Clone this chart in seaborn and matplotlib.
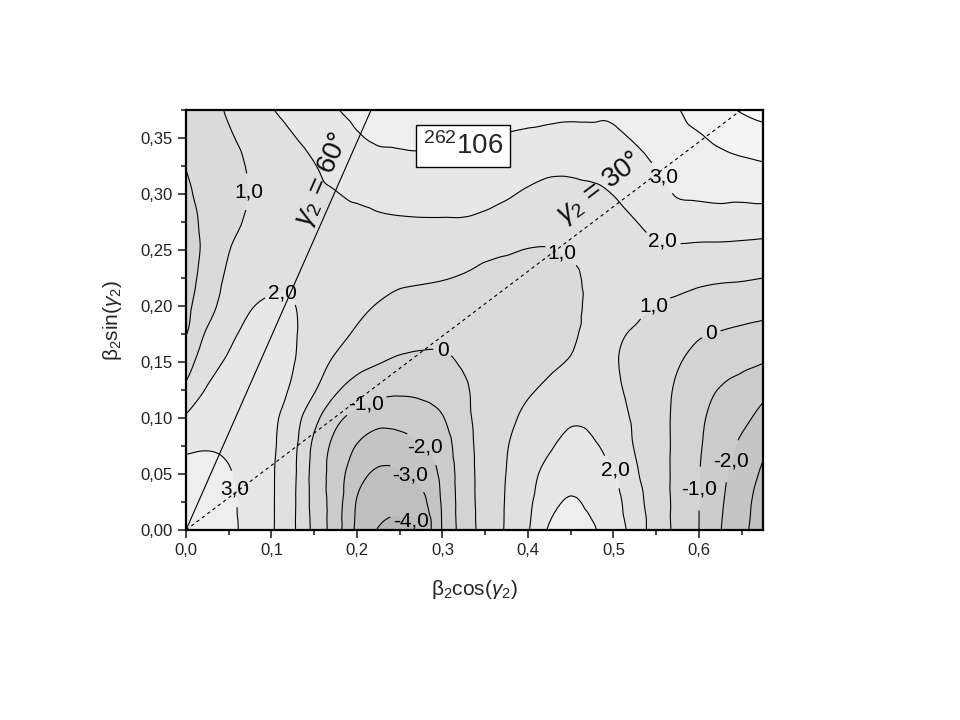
import numpy as np
import seaborn as sns
import matplotlib
matplotlib.use("Agg")
import matplotlib.pyplot as plt
import matplotlib.tri as mtri
from matplotlib.ticker import MultipleLocator, FuncFormatter

# ---------------- data ----------------
beta_cos = [0.000, 0.025, 0.050, 0.075, 0.100, 0.125, 0.150, 0.175, 0.200, 0.225,
            0.250, 0.275, 0.300, 0.325, 0.350, 0.375, 0.400, 0.425, 0.450, 0.475,
            0.500, 0.525, 0.550, 0.575, 0.600, 0.625, 0.650, 0.675]
beta_sin = [0.000, 0.025, 0.050, 0.075, 0.100, 0.125, 0.150, 0.175,
            0.200, 0.225, 0.250, 0.275, 0.300, 0.325, 0.350, 0.375]

# energy (MeV) along each beta_cos column, bottom (beta_sin=0) to top
e_000 = [3.8, 3.6, 3.35, 2.83, 2.11, 1.22, 0.54, -0.04, -0.2, -0.32, -0.4, -0.33, -0.15, 0.02, 0.16, 0.3]
e_025 = [3.6, 3.5, 3.3, 2.93, 2.5, 2.08, 1.62, 1.15, 0.57, 0.34, 0.22, 0.24, 0.32, 0.42, 0.54, 0.68]
e_050 = [3.25, 3.2, 3.07, 2.84, 2.6, 2.35, 2.1, 1.83, 1.52, 1.2, 0.97, 0.75, 0.67, 0.72, 0.9, 1.1]
e_075 = [2.66, 2.62, 2.55, 2.5, 2.45, 2.4, 2.3, 2.15, 1.95, 1.6, 1.3, 1.12, 1.02, 1.08, 1.25, 1.52]
e_100 = [2.1, 2.1, 2.1, 2.15, 2.2, 2.25, 2.27, 2.22, 2.08, 1.85, 1.55, 1.35, 1.28, 1.38, 1.6, 1.95]
e_125 = [1.16, 1.18, 1.22, 1.28, 1.45, 1.88, 2.04, 2.06, 2.02, 1.9, 1.75, 1.6, 1.58, 1.68, 1.95, 2.3]
e_150 = [-0.26, -0.33, -0.35, -0.21, 0.29, 1.08, 1.45, 1.7, 1.8, 1.78, 1.72, 1.75, 1.85, 1.97, 2.25, 2.6]
e_175 = [-1.52, -1.48, -1.45, -1.28, -0.74, 0.14, 0.83, 1.3, 1.5, 1.6, 1.68, 1.8, 1.97, 2.25, 2.6, 2.95]
e_200 = [-3.19, -3.06, -2.63, -2.05, -1.3, -0.42, 0.31, 0.87, 1.2, 1.4, 1.55, 1.78, 2.12, 2.5, 2.92, 3.2]
e_225 = [-4.05, -3.62, -3.15, -2.5, -1.67, -0.71, 0.05, 0.5, 0.95, 1.26, 1.57, 1.87, 2.25, 2.7, 3.1, 3.3]
e_250 = [-4.3, -3.7, -3.12, -2.41, -1.63, -0.83, -0.14, 0.33, 0.75, 1.15, 1.53, 1.91, 2.33, 2.78, 3.12, 3.35]
e_275 = [-3.85, -3.3, -2.71, -2.05, -1.41, -0.79, -0.21, 0.27, 0.68, 1.1, 1.52, 1.93, 2.36, 2.8, 3.15, 3.4]
e_300 = [-1.94, -1.88, -1.76, -1.5, -1.05, -0.62, -0.18, 0.23, 0.63, 1.04, 1.48, 1.93, 2.35, 2.75, 3.12, 3.4]
e_325 = [-0.57, -0.52, -0.48, -0.38, -0.23, -0.12, 0.1, 0.37, 0.63, 0.93, 1.4, 1.92, 2.33, 2.7, 3.1, 3.4]
e_350 = [0.37, 0.38, 0.38, 0.36, 0.33, 0.31, 0.27, 0.35, 0.5, 0.75, 1.22, 1.78, 2.3, 2.68, 3.0, 3.3]
e_375 = [1.1, 1.07, 1.02, 0.95, 0.78, 0.69, 0.49, 0.5, 0.6, 0.78, 1.08, 1.63, 2.1, 2.5, 2.93, 3.3]
e_400 = [1.93, 1.8, 1.68, 1.45, 1.2, 0.92, 0.78, 0.72, 0.72, 0.82, 0.98, 1.45, 1.88, 2.35, 2.85, 3.25]
e_425 = [3.1, 2.7, 2.3, 1.89, 1.52, 1.14, 0.9, 0.8, 0.78, 0.82, 0.97, 1.36, 1.73, 2.2, 2.75, 3.25]
e_450 = [3.4, 3.08, 2.7, 2.28, 1.87, 1.46, 1.05, 0.9, 0.85, 0.88, 1.08, 1.42, 1.76, 2.18, 2.72, 3.2]
e_475 = [3.1, 2.8, 2.45, 2.12, 1.8, 1.5, 1.3, 1.17, 1.12, 1.14, 1.27, 1.5, 1.82, 2.27, 2.75, 3.2]
e_500 = [2.51, 2.35, 2.12, 1.68, 1.35, 1.15, 1.06, 1.08, 1.18, 1.3, 1.45, 1.7, 2.02, 2.4, 2.85, 3.15]
e_525 = [1.62, 1.4, 1.15, 0.95, 0.88, 0.8, 0.8, 0.93, 1.2, 1.45, 1.7, 1.97, 2.33, 2.7, 3.07, 3.35]
e_550 = [0.51, 0.49, 0.45, 0.42, 0.37, 0.36, 0.42, 0.67, 0.97, 1.4, 1.83, 2.25, 2.65, 3.03, 3.35, 3.65]
e_575 = [-0.22, -0.23, -0.24, -0.22, -0.2, -0.12, 0.08, 0.45, 0.83, 1.31, 1.87, 2.46, 3.07, 3.35, 3.65, 3.95]
e_600 = [-1.0, -0.99, -0.97, -0.9, -0.82, -0.65, -0.35, 0.1, 0.62, 1.2, 1.82, 2.48, 3.15, 3.5, 3.9, 4.4]
e_625 = [-1.96, -1.86, -1.75, -1.55, -1.35, -1.05, -0.55, -0.06, 0.52, 1.12, 1.8, 2.5, 3.23, 3.65, 4.2, 4.75]
e_650 = [-2.75, -2.68, -2.45, -2.18, -1.75, -1.3, -0.8, -0.2, 0.45, 1.08, 1.75, 2.5, 3.2, 3.78, 4.45, 5.07]
e_675 = [-3.5, -3.35, -3.15, -2.8, -2.3, -1.73, -0.97, -0.32, 0.34, 1.0, 1.69, 2.47, 3.26, 3.9, 4.6, 5.3]

fill_levels = [-5, -4, -3, -2, -1, 0, 1, 2, 3, 4, 5, 6]
line_levels = [-4, -3, -2, -1, 0, 1, 2, 3, 4, 5]

# contour label anchors (beta_cos, beta_sin)
label_x = [0.075, 0.113, 0.060, 0.210, 0.301, 0.279, 0.262, 0.264,
           0.443, 0.557, 0.557, 0.546, 0.614, 0.507, 0.636, 0.599]
label_y = [0.302, 0.212, 0.037, 0.113, 0.161, 0.074, 0.049, 0.009,
           0.250, 0.314, 0.257, 0.201, 0.176, 0.055, 0.062, 0.037]

gamma_angles = [60, 30]
nucleus_mass = "262"
nucleus_z = "106"

# ---------------- style ----------------
sns.set_style("ticks")
plt.rcParams['font.family'] = ['Liberation Sans', 'DejaVu Sans']
plt.rcParams['mathtext.fontset'] = 'custom'
plt.rcParams['mathtext.rm'] = 'Liberation Sans'
plt.rcParams['mathtext.it'] = 'Liberation Sans:italic'
plt.rcParams['mathtext.bf'] = 'Liberation Sans:bold'

columns = [e_000, e_025, e_050, e_075, e_100, e_125, e_150, e_175, e_200, e_225,
           e_250, e_275, e_300, e_325, e_350, e_375, e_400, e_425, e_450, e_475,
           e_500, e_525, e_550, e_575, e_600, e_625, e_650, e_675]
Z = np.array(columns, dtype=float).T          # rows: beta_sin, cols: beta_cos
X, Y = np.meshgrid(beta_cos, beta_sin)
ny, nx = Z.shape
idx = np.arange(nx * ny).reshape(ny, nx)
tris = []
for j in range(ny - 1):
    for i in range(nx - 1):
        a, b, c, d = idx[j, i], idx[j, i + 1], idx[j + 1, i], idx[j + 1, i + 1]
        tris.append([a, b, d])
        tris.append([a, d, c])
tri = mtri.Triangulation(X.ravel(), Y.ravel(), triangles=np.array(tris))
interp = mtri.CubicTriInterpolator(tri, Z.ravel(), kind='geom')
refiner = mtri.UniformTriRefiner(tri)
tri_r, z_r = refiner.refine_field(Z.ravel(), triinterpolator=interp, subdiv=3)

band_colors = sns.blend_palette(['#b8b8b8', '#fbfbfb'], n_colors=len(fill_levels) - 1)

fig = plt.figure(figsize=(9.6, 7.2), dpi=100)
ax = fig.add_axes([186 / 960, 190 / 720, (763 - 186) / 960, (530 - 110) / 720])

ax.tricontourf(tri_r, z_r, levels=fill_levels, colors=band_colors)
cs = ax.tricontour(tri_r, z_r, levels=line_levels, colors='black', linewidths=0.8,
                   negative_linestyles='solid')


def fmt(v):
    if abs(v) < 1e-9:
        return '0'
    return f'{v:.1f}'.replace('.', ',')


labels = ax.clabel(cs, levels=[-4, -3, -2, -1, 0, 1, 2, 3], manual=list(zip(label_x, label_y)),
                   fmt=fmt, inline=True, inline_spacing=4, fontsize=15)
for t in labels:
    t.set_rotation(0)

# gamma reference lines
ax.axline((0, 0), slope=np.tan(np.radians(gamma_angles[0])), color='black', lw=0.8)
ax.axline((0, 0), slope=np.tan(np.radians(gamma_angles[1])), color='black', lw=0.8,
          ls=(0, (3, 3)))

ax.text(0.159, 0.313, r'$\gamma_2$ = %d°' % gamma_angles[0], fontsize=20,
        rotation=gamma_angles[0], transform_rotates_text=True, rotation_mode='anchor',
        ha='center', va='center', color='#111111')
ax.text(0.484, 0.305, r'$\gamma_2$ = %d°' % gamma_angles[1], fontsize=20,
        rotation=gamma_angles[1], transform_rotates_text=True, rotation_mode='anchor',
        ha='center', va='center', color='#111111')

ax.text(0.324, 0.343, r'$^{%s}$%s' % (nucleus_mass, nucleus_z), fontsize=20,
        ha='center', va='center',
        bbox=dict(boxstyle='square,pad=0.25', fc='white', ec='black', lw=1.0))

ax.set_xlim(0, 0.675)
ax.set_ylim(0, 0.375)
ax.xaxis.set_major_locator(MultipleLocator(0.1))
ax.xaxis.set_minor_locator(MultipleLocator(0.05))
ax.yaxis.set_major_locator(MultipleLocator(0.05))
ax.yaxis.set_minor_locator(MultipleLocator(0.025))
ax.xaxis.set_major_formatter(FuncFormatter(lambda v, p: f'{v:.1f}'.replace('.', ',')))
ax.yaxis.set_major_formatter(FuncFormatter(lambda v, p: f'{v:.2f}'.replace('.', ',')))
ax.tick_params(which='major', direction='out', length=6, width=1.2, labelsize=12,
               labelcolor='#222222', top=False, right=False)
ax.tick_params(which='minor', direction='out', length=3.5, width=1.2, top=False, right=False)
for sp in ax.spines.values():
    sp.set_linewidth(1.6)
    sp.set_color('black')
    sp.set_visible(True)

ax.set_xlabel(r'β$_2$cos($\gamma_2$)', fontsize=15, labelpad=14)
ax.set_ylabel(r'β$_2$sin($\gamma_2$)', fontsize=15, labelpad=12)

fig.savefig('out.png', dpi=100)
